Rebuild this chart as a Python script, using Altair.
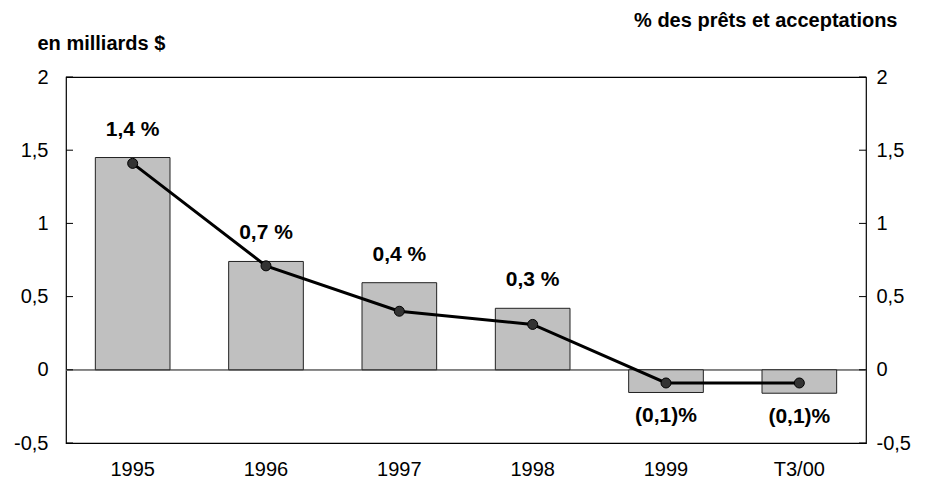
import altair as alt
import pandas as pd

categories = ["1995", "1996", "1997", "1998", "1999", "T3/00"]
amounts = [1.45, 0.74, 0.595, 0.42, -0.155, -0.16]
pct = [1.41, 0.71, 0.40, 0.31, -0.09, -0.09]
labels = ["1,4 %", "0,7 %", "0,4 %", "0,3 %", "(0,1)%", "(0,1)%"]
ticks = [-0.5, 0, 0.5, 1, 1.5, 2]

df = pd.DataFrame({"cat": categories, "amount": amounts, "pct": pct, "label": labels})
tick_df = pd.DataFrame({"v": ticks})

FONT = "Liberation Sans"
FS = 20
DOM = [-0.5, 2]
LBL = "replace(toString(datum.value), '.', ',')"


def yscale():
    return alt.Scale(domain=DOM, nice=False, zero=False)


x_enc = alt.X(
    "cat:N", sort=categories,
    scale=alt.Scale(paddingInner=0.44, paddingOuter=0.22),
    axis=alt.Axis(title=None, labelAngle=0, ticks=False, domain=False,
                  labelFontSize=FS, labelPadding=16, labelColor="black", labelFont=FONT),
)

base = alt.Chart(df)

zero = base.mark_rule(color="#808080", strokeWidth=1).encode(
    y=alt.Y(datum=0, scale=yscale(), axis=None)
)

bars = base.mark_bar(color="#c0c0c0", stroke="#222222", strokeWidth=1).encode(
    x=x_enc,
    y=alt.Y("amount:Q", scale=yscale(),
            axis=alt.Axis(values=ticks, title="en milliards $", titleAngle=0,
                          titleX=-29, titleY=-34, titleAlign="left", titleBaseline="middle",
                          titleFontSize=FS, titleFontWeight="bold", titleFont=FONT,
                          titleColor="black", labelExpr=LBL, ticks=False, domain=False,
                          grid=False, labelPadding=18, labelFontSize=FS, labelFont=FONT,
                          labelColor="black")),
)

line = base.mark_line(
    color="black", strokeWidth=3,
    point=alt.OverlayMarkDef(filled=True, fill="#333333", size=100, stroke="black", strokeWidth=1),
).encode(
    x=alt.X("cat:N", sort=categories),
    y=alt.Y("pct:Q", scale=yscale(),
            axis=alt.Axis(orient="right", values=ticks, title="%  des prêts et acceptations",
                          titleAngle=0, titleX=31, titleY=-57, titleAlign="right",
                          titleBaseline="middle", titleFontSize=FS, titleFontWeight="bold",
                          titleFont=FONT, titleColor="black", labelExpr=LBL, ticks=False,
                          domain=False, grid=False, labelPadding=10, labelFontSize=FS,
                          labelFont=FONT, labelColor="black")),
)

ticks_left = alt.Chart(tick_df).mark_rule(color="black").encode(
    y=alt.Y("v:Q", scale=yscale(), axis=None), x=alt.value(0), x2=alt.value(7)
)
ticks_right = alt.Chart(tick_df).mark_rule(color="black").encode(
    y=alt.Y("v:Q", scale=yscale(), axis=None), x=alt.value(793), x2=alt.value(800)
)

txt_pos = base.transform_filter("datum.amount > 0").mark_text(
    dy=-28, fontWeight="bold", fontSize=21, font=FONT, color="black", baseline="middle"
).encode(
    x=alt.X("cat:N", sort=categories),
    y=alt.Y("amount:Q", scale=yscale(), axis=None),
    text="label:N",
)
txt_neg = base.transform_filter("datum.amount <= 0").mark_text(
    dy=24, fontWeight="bold", fontSize=21, font=FONT, color="black", baseline="middle"
).encode(
    x=alt.X("cat:N", sort=categories),
    y=alt.Y("amount:Q", scale=yscale(), axis=None),
    text="label:N",
)

chart = alt.layer(
    zero, bars, ticks_left, ticks_right, line, txt_pos, txt_neg
).resolve_scale(y="independent").properties(
    width=800, height=366,
    background="white",
    autosize=alt.AutoSizeParams(type="none"),
    padding={"left": 58, "top": 69, "right": 51, "bottom": 41},
).configure_view(stroke="black", strokeWidth=1.2)

chart.save("out.html", embed_options={"renderer": "svg", "actions": False})
